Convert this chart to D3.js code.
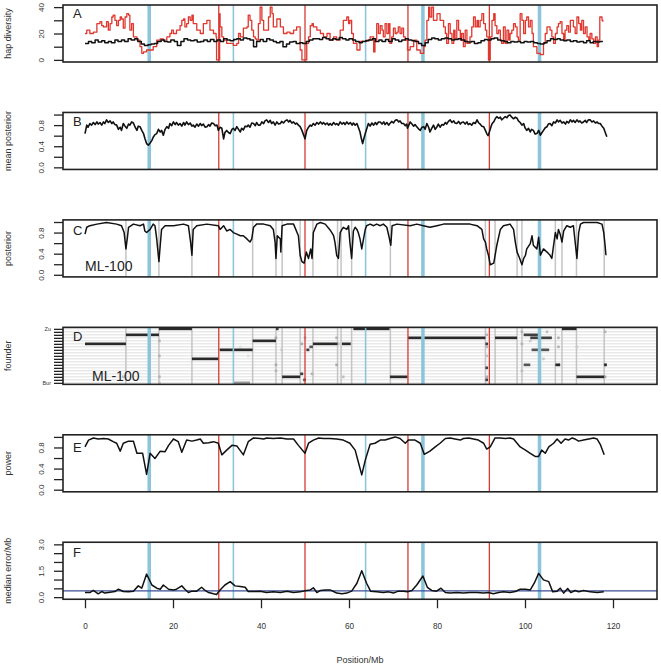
<!DOCTYPE html>
<html><head><meta charset="utf-8">
<script src="https://cdn.jsdelivr.net/npm/d3@7"></script>
<style>
body{margin:0;background:#fff}
svg{font-family:"Liberation Sans",Arial,Helvetica,sans-serif}
</style></head><body>
<svg id="chart" width="661" height="666"></svg>
<script>
// chromosome boundaries and centromeres (Mb, cumulative)
var chromEnds = [30.4, 50.0, 73.4, 91.9];
var centromeres = [[14.2, 15.0], [33.55, 33.9], [63.6, 63.95], [76.4, 77.2], [102.9, 103.7]];
var breakpoints = [9.3, 16.8, 24.3, 38.1, 43.4, 44.8, 48.9, 51.8, 57.4, 58.2, 60.6, 69.4, 91.0, 93.2, 98.2, 99.3, 106.9, 108.4, 111.7, 118.0];
var founders = ["Bur","Can","Col","Ct","Edi","Hi","Kn","Ler","Mt","No","Oy","Po","Rsch","Sf","Tsu","Wil","Ws","Wu","Zu"];
var xTicks = [0, 20, 40, 60, 80, 100, 120];

// A: haplotype diversity (red = observed, black = expected)
var hapRed = [[0,20],[0.4,22.5],[1.1,20],[1.9,21],[2.7,27.5],[3.4,29],[3.8,26],[4.2,25],[4.9,29],[5.3,22.5],[5.7,27.5],[6.1,32.5],[6.4,34],[6.8,30],[7.2,26],[7.6,30],[8.0,32.5],[8.3,31],[8.7,24],[9.1,32.5],[9.5,35],[9.9,34],[10.2,22.5],[10.6,27.5],[11.0,17.5],[11.8,15],[12.5,10],[12.9,5],[13.3,6],[14.0,7.5],[15.5,10],[16.3,15],[17.1,16],[17.8,15],[18.6,17.5],[19.3,20],[19.7,22.5],[20.1,20],[20.8,22.5],[21.6,26],[22.0,30],[22.4,31],[22.7,25],[23.1,27.5],[23.5,32.5],[23.9,30],[24.3,34],[24.6,27.5],[25.4,22.5],[26.2,20],[26.9,27.5],[27.7,30],[28.4,22.5],[29.2,20],[29.8,17.5],[29.9,0],[30.3,0],[30.6,35],[30.7,25],[31.1,17.5],[31.5,15],[32.2,12.5],[33.7,11],[34.5,12.5],[34.9,20],[35.3,17.5],[36.0,24],[36.8,25],[37.1,34],[37.5,30],[37.9,22.5],[38.3,17.5],[38.7,16],[39.0,15],[39.4,27.5],[39.8,40],[40.2,30],[40.6,22.5],[41.3,22.5],[41.7,32.5],[42.1,40],[42.5,35],[42.8,25],[43.6,31],[44.4,25],[45.1,20],[45.9,21],[46.6,20],[47.4,22.5],[48.1,25],[48.9,7.5],[49.3,0],[50.0,0],[50.4,12.5],[50.8,17.5],[51.2,26],[51.6,27.5],[51.9,25],[52.7,22.5],[53.5,20],[54.2,17.5],[55.0,20],[55.7,15],[56.5,17.5],[57.2,15],[58.0,22.5],[58.7,30],[59.5,32.5],[59.9,27.5],[60.2,30],[60.6,20],[61.0,12.5],[61.8,7.5],[62.5,14],[63.3,14],[64.0,15],[64.8,17.5],[65.6,6],[65.9,15],[66.3,27.5],[66.7,20],[67.1,26],[67.5,22.5],[67.8,17.5],[68.2,27.5],[68.6,20],[69.0,27.5],[69.3,12.5],[69.7,17.5],[70.1,24],[70.5,20],[70.9,21],[71.2,25],[71.6,20],[72.0,24],[72.4,17.5],[72.8,15],[73.3,7.5],[73.9,10],[74.7,15],[75.4,7.5],[76.2,5],[77.0,10],[77.3,15],[77.7,30],[78.1,40],[78.4,32.5],[78.8,40],[79.2,30],[80.0,35],[80.7,30],[81.5,25],[81.9,20],[82.2,12.5],[82.6,27.5],[83.0,20],[83.4,12.5],[83.8,22.5],[84.1,16],[84.5,30],[84.9,22.5],[85.3,15],[85.6,20],[86.0,10],[86.4,22.5],[86.8,12.5],[87.5,17.5],[87.9,25],[88.3,32.5],[88.7,25],[89.1,30],[89.4,25],[89.8,30],[90.2,35],[90.6,27.5],[91.0,22.5],[91.3,17.5],[91.7,0],[92.1,17.5],[92.5,30],[92.9,35],[93.2,26],[93.6,20],[94.0,22.5],[94.4,15],[94.7,12.5],[95.1,25],[95.5,12.5],[95.9,22.5],[96.3,15],[96.6,20],[97.0,22.5],[97.4,27.5],[97.8,25],[98.2,17.5],[98.5,15],[98.9,35],[99.3,30],[99.7,20],[100.1,30],[100.4,32.5],[100.8,25],[101.2,30],[101.6,20],[101.9,10],[102.7,5],[103.5,4],[104.2,12.5],[104.6,20],[105.0,25],[105.7,22.5],[106.1,17.5],[106.5,12.5],[106.9,20],[107.3,25],[107.6,27.5],[108.0,29],[108.4,20],[108.8,15],[109.1,22.5],[109.5,26],[109.9,21],[110.3,30],[111.0,25],[111.4,20],[111.8,32.5],[112.2,27.5],[112.6,22.5],[112.9,30],[113.3,20],[113.7,25],[114.1,17.5],[114.5,15],[114.8,20],[115.2,16],[115.6,12.5],[116.0,17.5],[116.4,10],[116.7,15],[117.0,32.5],[117.5,30],[117.7,29]];
var hapBlack = [[0,12.5],[0.8,14],[1.5,13],[2.3,15],[3.0,13.5],[3.8,14.5],[4.5,13],[5.3,14],[6.0,13],[6.8,15],[7.5,14],[8.3,15],[9.0,14],[9.8,16],[10.5,15],[11.3,16],[12.0,14],[12.8,12],[13.5,11],[14.3,11.5],[15.0,12],[15.8,12.5],[16.5,14],[17.3,15],[18.0,14],[18.8,13.5],[19.5,15],[20.3,14],[21.0,11],[21.8,14],[22.5,16],[23.3,15],[24.0,14.5],[24.8,15],[25.5,13.5],[26.3,14],[27.0,15],[27.8,14],[28.5,15.5],[29.3,14],[30.0,15],[30.8,14],[31.5,16],[32.3,15],[33.0,14.5],[33.8,15.5],[34.5,16],[35.3,15],[36.0,16.5],[36.8,16],[37.5,15],[38.3,10],[39.0,14],[39.8,15.5],[40.5,14],[41.3,16],[42.0,15],[42.8,14],[43.5,13],[44.3,14],[45.0,10],[45.8,12],[46.5,13.5],[47.3,14],[48.0,12.5],[48.8,13],[49.5,12.5],[50.3,14],[51.0,15],[51.8,16],[52.5,16],[53.3,15.5],[54.0,17],[54.8,16],[55.5,15],[56.3,16],[57.0,15.5],[57.8,17],[58.5,16],[59.3,15],[60.0,16],[60.8,15],[61.5,14],[62.3,13],[63.0,14],[63.8,14.5],[64.5,15],[65.3,16],[66.0,14],[66.8,15],[67.5,14],[68.3,15.5],[69.0,14],[69.8,16],[70.5,15],[71.3,14],[72.0,15],[72.8,16],[73.5,15],[74.3,14.5],[75.0,14],[75.8,12.5],[76.5,11],[77.3,13],[78.0,15.5],[78.8,16.5],[79.5,16],[80.3,15],[81.0,16],[81.8,16.5],[82.5,16],[83.3,15],[84.0,15.5],[84.8,16],[85.5,15],[86.3,14],[87.0,13.5],[87.8,14],[88.5,12.5],[89.3,13],[90.0,14.5],[90.8,15.5],[91.5,15],[92.3,16],[93.0,16.5],[93.8,15],[94.5,14.5],[95.3,14],[96.0,13],[96.8,14],[97.5,13.5],[98.3,14],[99.0,13],[99.8,14],[100.5,13.5],[101.3,14],[102.0,13],[102.8,12.5],[103.5,12],[104.3,13],[105.0,14.5],[105.8,16],[106.5,15.5],[107.3,16],[108.0,15],[108.8,14.5],[109.5,15],[110.3,14],[111.0,14.5],[111.8,13.5],[112.5,14],[113.3,13],[114.0,14.5],[114.8,13],[115.5,14],[116.3,13.5],[117.0,14],[117.7,14]];

// B: mean posterior
var meanPost = [[0,0.64],[0.4,0.80],[0.7,0.76],[1.1,0.83],[1.5,0.80],[1.9,0.85],[2.3,0.81],[2.7,0.86],[3.0,0.82],[3.4,0.85],[3.8,0.80],[4.2,0.86],[4.5,0.83],[4.9,0.90],[5.3,0.85],[5.7,0.88],[6.1,0.83],[6.4,0.86],[6.8,0.81],[7.2,0.80],[7.6,0.72],[8.0,0.76],[8.3,0.70],[8.7,0.83],[9.1,0.78],[9.5,0.74],[9.9,0.82],[10.2,0.80],[10.6,0.86],[11.0,0.84],[11.4,0.76],[11.8,0.70],[12.1,0.78],[12.5,0.77],[12.9,0.70],[13.3,0.64],[13.6,0.55],[14.0,0.45],[14.4,0.42],[14.8,0.46],[15.2,0.51],[15.5,0.57],[15.9,0.62],[16.3,0.64],[16.7,0.72],[17.1,0.67],[17.4,0.70],[17.8,0.61],[18.2,0.72],[18.6,0.77],[19.0,0.74],[19.3,0.83],[19.7,0.79],[20.1,0.86],[20.5,0.81],[20.8,0.85],[21.2,0.80],[21.6,0.83],[22.0,0.78],[22.4,0.85],[22.7,0.80],[23.1,0.86],[23.5,0.81],[23.9,0.84],[24.3,0.78],[24.6,0.80],[25.0,0.76],[25.4,0.82],[25.8,0.78],[26.2,0.83],[26.5,0.79],[26.9,0.82],[27.3,0.76],[27.7,0.77],[28.1,0.81],[28.4,0.78],[28.8,0.84],[29.2,0.83],[29.6,0.79],[30.0,0.80],[30.3,0.70],[30.7,0.76],[31.1,0.74],[31.5,0.54],[31.8,0.66],[32.2,0.70],[32.6,0.66],[33.0,0.64],[33.4,0.72],[33.7,0.74],[34.1,0.70],[34.5,0.77],[34.9,0.72],[35.3,0.67],[35.6,0.74],[36.0,0.71],[36.4,0.78],[36.8,0.77],[37.1,0.80],[37.5,0.76],[37.9,0.84],[38.3,0.83],[38.7,0.79],[39.0,0.85],[39.4,0.80],[39.8,0.80],[40.2,0.86],[40.6,0.83],[40.9,0.88],[41.3,0.90],[41.7,0.85],[42.1,0.89],[42.4,0.83],[42.8,0.86],[43.2,0.80],[43.6,0.86],[44.0,0.82],[44.4,0.83],[44.7,0.87],[45.1,0.84],[45.5,0.88],[45.9,0.90],[46.3,0.86],[46.6,0.89],[47.0,0.84],[47.4,0.86],[47.8,0.82],[48.1,0.84],[48.5,0.80],[48.9,0.77],[49.3,0.70],[49.7,0.61],[50.0,0.54],[50.4,0.70],[50.8,0.76],[51.2,0.80],[51.5,0.78],[51.9,0.83],[52.3,0.80],[52.7,0.85],[53.1,0.82],[53.5,0.86],[53.9,0.82],[54.2,0.85],[54.6,0.81],[55.0,0.84],[55.4,0.80],[55.7,0.83],[56.1,0.80],[56.5,0.85],[56.9,0.81],[57.2,0.83],[57.6,0.80],[58.0,0.86],[58.4,0.82],[58.8,0.85],[59.1,0.81],[59.5,0.86],[59.9,0.82],[60.3,0.85],[60.7,0.80],[61.0,0.84],[61.4,0.80],[61.8,0.83],[62.2,0.74],[62.5,0.67],[62.8,0.55],[63.1,0.45],[63.4,0.55],[63.7,0.64],[64.1,0.75],[64.4,0.83],[64.8,0.78],[65.2,0.84],[65.6,0.80],[66.0,0.85],[66.3,0.81],[66.7,0.86],[67.1,0.86],[67.5,0.82],[67.9,0.86],[68.2,0.81],[68.6,0.85],[69.0,0.80],[69.3,0.83],[69.7,0.87],[70.1,0.84],[70.5,0.89],[70.9,0.90],[71.3,0.86],[71.6,0.88],[72.0,0.83],[72.4,0.83],[72.8,0.79],[73.1,0.82],[73.3,0.74],[73.6,0.80],[73.9,0.86],[74.3,0.82],[74.7,0.78],[75.0,0.81],[75.4,0.77],[75.8,0.73],[76.2,0.70],[76.6,0.76],[77.0,0.77],[77.3,0.72],[77.7,0.83],[78.1,0.76],[78.4,0.67],[78.8,0.74],[79.2,0.80],[79.6,0.72],[80.0,0.77],[80.3,0.82],[80.7,0.76],[81.1,0.81],[81.5,0.80],[81.9,0.85],[82.2,0.82],[82.6,0.87],[83.0,0.90],[83.4,0.85],[83.8,0.88],[84.1,0.84],[84.5,0.83],[84.9,0.87],[85.3,0.82],[85.6,0.85],[86.0,0.86],[86.4,0.82],[86.8,0.86],[87.1,0.81],[87.5,0.83],[87.9,0.80],[88.3,0.85],[88.7,0.83],[89.1,0.90],[89.4,0.85],[89.8,0.82],[90.2,0.78],[90.6,0.77],[91.0,0.70],[91.3,0.64],[91.6,0.60],[91.9,0.67],[92.3,0.78],[92.6,0.84],[92.9,0.86],[93.3,0.93],[93.6,0.96],[94.0,0.93],[94.4,0.95],[94.7,0.90],[95.1,0.93],[95.5,0.96],[95.9,0.94],[96.2,0.98],[96.6,0.99],[97.0,0.95],[97.4,0.92],[97.8,0.95],[98.2,0.93],[98.5,0.88],[98.9,0.85],[99.3,0.80],[99.7,0.83],[100.0,0.75],[100.4,0.70],[100.8,0.74],[101.2,0.67],[101.5,0.72],[101.9,0.70],[102.3,0.63],[102.7,0.64],[103.1,0.70],[103.5,0.61],[103.8,0.65],[104.2,0.70],[104.6,0.75],[105.0,0.77],[105.3,0.82],[105.7,0.83],[106.1,0.79],[106.5,0.86],[106.9,0.84],[107.3,0.90],[107.6,0.86],[108.0,0.89],[108.4,0.84],[108.8,0.86],[109.2,0.82],[109.5,0.87],[109.9,0.84],[110.3,0.90],[110.7,0.86],[111.0,0.89],[111.4,0.85],[111.8,0.90],[112.2,0.86],[112.5,0.88],[112.9,0.84],[113.3,0.86],[113.7,0.89],[114.0,0.85],[114.4,0.90],[114.8,0.90],[115.2,0.86],[115.6,0.88],[116.0,0.84],[116.4,0.86],[116.7,0.83],[117.1,0.83],[117.5,0.78],[117.9,0.74],[118.2,0.67],[118.6,0.58]];

// C: posterior of ML founder for line ML-100
var linePost = [[0,0.77],[0.4,0.90],[1.1,0.93],[2.7,0.96],[4.9,0.99],[7.2,0.96],[8.3,0.93],[8.9,0.80],[9.3,0.49],[9.6,0.68],[9.9,0.90],[11.0,0.96],[12.5,0.93],[13.3,0.96],[13.6,0.83],[14.0,0.80],[14.8,0.86],[15.5,0.96],[15.9,0.93],[16.3,0.68],[16.8,0.25],[17.1,0.56],[17.4,0.86],[18.2,0.93],[20.1,0.93],[22.4,0.96],[23.5,0.93],[24.0,0.62],[24.3,0.37],[24.6,0.86],[25.4,0.93],[27.7,0.96],[30.3,0.93],[30.7,0.86],[31.5,0.93],[32.2,0.83],[33.0,0.86],[33.7,0.80],[34.5,0.77],[35.3,0.74],[36.0,0.74],[36.8,0.68],[37.5,0.62],[37.9,0.68],[38.3,0.90],[39.0,0.96],[40.6,0.96],[42.1,0.93],[42.8,0.86],[43.2,0.62],[43.4,0.31],[43.7,0.74],[44.4,0.68],[44.5,0.43],[44.8,0.93],[45.9,0.96],[47.4,0.96],[48.5,0.74],[48.9,0.37],[49.3,0.25],[49.8,0.22],[50.3,0.43],[50.8,0.31],[51.3,0.49],[51.6,0.31],[51.9,0.80],[52.7,0.96],[53.5,0.99],[54.6,0.96],[55.7,0.85],[56.5,0.74],[56.8,0.62],[57.2,0.37],[57.6,0.31],[58.0,0.80],[58.4,0.86],[58.7,0.90],[59.5,0.86],[59.9,0.93],[60.2,0.62],[60.6,0.31],[61.0,0.83],[61.4,0.90],[61.8,0.86],[62.1,0.80],[62.5,0.68],[62.9,0.49],[63.3,0.68],[63.7,0.86],[64.0,0.93],[64.8,0.96],[65.6,0.93],[66.3,0.96],[67.1,0.93],[67.8,0.96],[68.6,0.90],[69.2,0.68],[69.5,0.56],[69.8,0.93],[70.9,0.96],[73.9,0.93],[75.4,0.96],[76.9,0.93],[78.4,0.90],[80.0,0.93],[81.5,0.96],[84.5,0.96],[87.5,0.96],[89.1,0.93],[90.2,0.86],[90.6,0.68],[91.0,0.62],[91.3,0.49],[91.7,0.37],[92.1,0.19],[92.9,0.22],[93.6,0.56],[94.4,0.86],[95.1,0.93],[96.6,0.96],[97.4,0.86],[97.8,0.62],[98.2,0.43],[98.8,0.31],[99.3,0.19],[99.7,0.31],[100.1,0.37],[100.4,0.49],[101.2,0.59],[101.6,0.74],[101.9,0.56],[102.7,0.49],[103.1,0.71],[103.5,0.37],[104.2,0.49],[105.0,0.43],[105.7,0.37],[106.1,0.31],[106.5,0.56],[106.9,0.80],[107.3,0.68],[107.6,0.86],[108.0,0.77],[108.4,0.62],[108.8,0.83],[109.5,0.93],[110.3,0.90],[111.0,0.93],[111.8,0.31],[112.2,0.80],[112.6,0.96],[113.3,0.99],[116.4,0.99],[117.5,0.96],[117.9,0.80],[118.2,0.56],[118.4,0.37]];

// D: ML founder segments [start, end, founder index, posterior] and weaker cells
var founderSegs = [[0,9.3,13,1],[9.3,16.8,16,1],[16.8,24.3,18,1],[24.3,30.4,8,1],[30.6,38.1,11,1],[33.7,37.5,0,0.5],[38.1,43.4,14,1],[43.4,44.0,18,0.9],[44.8,48.9,2,1],[48.9,49.6,3,0.9],[49.6,50.2,1,0.9],[50.3,51.0,11,0.9],[51.0,51.8,12,0.8],[51.8,57.4,13,1],[58.4,60.4,13,1],[61.0,69.2,18,1],[69.3,73.3,2,1],[73.4,91.0,15,1],[91.0,91.6,13,0.9],[91.0,91.6,5,0.9],[91.0,91.6,1,0.9],[93.2,98.2,15,1],[99.7,103.1,16,0.9],[101.2,106.1,15,0.9],[101.5,105.5,11,0.8],[99.7,101.2,6,0.8],[106.9,108.0,6,1],[108.4,111.7,18,1],[111.7,118.0,2,1],[118.0,118.6,6,1]];
var founderCells = [[8.7,2,0.3],[16.9,14,0.35],[16.9,9,0.35],[16.9,2,0.35],[16.9,0,0.3],[35.3,12,0.15],[37.1,9,0.15],[43.4,15,0.4],[43.4,6,0.4],[43.4,4,0.35],[44.7,11,0.25],[49.3,13,0.4],[50.0,15,0.3],[51.6,3,0.35],[57.2,15,0.35],[57.2,6,0.4],[58.7,2,0.3],[57.6,13,0.3],[91.3,16,0.35],[91.3,12,0.35],[91.3,9,0.3],[91.3,2,0.4],[99.3,17,0.35],[99.3,13,0.35],[99.3,4,0.3],[101.2,14,0.25],[104.2,8,0.25],[105.0,17,0.3],[107.6,15,0.35],[107.6,12,0.35],[107.6,6,0.4],[111.8,12,0.25],[118.2,17,0.35],[118.2,6,0.5],[118.2,2,0.4]];

// E: power
var power = [[0,0.81],[0.8,0.94],[1.9,0.98],[3.0,0.96],[4.2,0.97],[5.3,0.96],[6.4,0.91],[7.2,0.88],[8.0,0.73],[8.7,0.88],[9.9,0.92],[11.0,0.92],[11.8,0.69],[13.1,0.69],[14.0,0.29],[14.8,0.69],[15.9,0.59],[17.1,0.73],[18.2,0.72],[19.0,0.84],[20.1,0.96],[21.2,0.91],[22.0,0.71],[23.1,0.94],[24.3,0.92],[25.4,0.94],[26.2,0.96],[26.9,0.88],[28.1,0.89],[29.2,0.91],[30.3,0.88],[31.1,0.66],[32.2,0.75],[33.4,0.84],[34.5,0.83],[36.0,0.66],[37.1,0.91],[38.3,0.98],[39.8,0.97],[40.6,0.96],[41.3,0.98],[42.8,0.97],[44.4,0.98],[45.9,0.96],[47.4,0.96],[48.5,0.84],[50.0,0.69],[50.8,0.88],[51.9,0.94],[53.1,0.98],[54.2,0.97],[55.7,0.97],[57.2,0.96],[58.7,0.94],[60.2,0.88],[61.4,0.75],[62.1,0.53],[62.9,0.28],[63.7,0.56],[64.8,0.86],[65.9,0.88],[67.1,0.94],[68.2,0.94],[69.3,0.97],[70.5,1.00],[71.6,0.97],[72.8,0.88],[73.5,0.94],[75.0,0.94],[76.2,0.88],[77.1,0.67],[78.4,0.73],[79.6,0.81],[80.7,0.88],[81.9,0.97],[83.0,0.98],[84.1,0.96],[85.3,0.94],[86.0,0.97],[87.2,0.98],[88.3,0.96],[89.4,0.94],[90.6,0.88],[91.3,0.77],[92.1,0.81],[93.2,0.98],[94.4,0.98],[95.5,0.97],[96.6,0.98],[97.4,0.96],[98.2,0.88],[98.9,0.81],[100.1,0.75],[101.2,0.69],[102.3,0.63],[103.1,0.63],[103.8,0.75],[104.6,0.69],[105.4,0.81],[106.5,0.88],[107.3,0.96],[108.2,0.88],[109.1,0.96],[109.9,0.94],[110.7,0.98],[111.4,0.96],[112.2,0.92],[113.3,0.94],[114.5,0.96],[115.6,0.98],[116.4,0.96],[117.1,0.86],[118.0,0.66]];

// F: median error (Mb) and its overall level
var medError = [[0,0.26],[1.1,0.26],[1.9,0.38],[3.0,0.19],[3.8,0.32],[4.5,0.23],[5.3,0.26],[6.8,0.32],[7.6,0.45],[8.7,0.32],[9.9,0.30],[11.0,0.34],[12.1,0.64],[12.9,0.51],[14.0,1.31],[15.2,0.69],[16.3,0.51],[17.1,0.45],[17.8,0.69],[19.0,0.45],[20.1,0.41],[20.8,0.45],[22.0,0.64],[22.7,0.45],[23.5,0.26],[24.3,0.34],[25.4,0.34],[26.5,0.56],[27.3,0.38],[28.1,0.26],[29.2,0.19],[29.9,0.15],[30.7,0.41],[31.8,0.69],[33.0,0.88],[34.1,0.64],[35.3,0.60],[36.4,0.56],[37.1,0.32],[38.3,0.32],[39.8,0.34],[41.3,0.26],[42.8,0.30],[44.4,0.26],[45.9,0.34],[47.4,0.26],[48.9,0.30],[50.0,0.36],[51.2,0.41],[51.9,0.53],[52.7,0.26],[53.5,0.38],[54.6,0.41],[55.7,0.41],[56.5,0.32],[57.2,0.23],[58.4,0.19],[59.5,0.23],[60.6,0.34],[61.8,0.79],[62.9,1.50],[64.0,0.79],[64.9,0.34],[66.3,0.30],[67.8,0.26],[69.0,0.30],[70.1,0.23],[71.2,0.34],[72.4,0.34],[73.3,0.30],[74.3,0.38],[75.4,0.69],[76.8,1.20],[77.8,0.56],[78.8,0.38],[79.9,0.34],[80.9,0.51],[81.9,0.26],[83.0,0.23],[84.5,0.26],[86.0,0.23],[87.5,0.26],[89.1,0.26],[90.6,0.23],[91.7,0.26],[92.8,0.19],[94.0,0.26],[95.1,0.30],[96.6,0.26],[97.8,0.32],[98.9,0.45],[100.1,0.45],[101.2,0.41],[102.1,0.79],[103.1,1.35],[104.2,0.98],[105.4,0.88],[106.3,0.30],[107.3,0.34],[108.0,0.51],[108.8,0.23],[109.7,0.49],[110.4,0.26],[111.4,0.38],[112.2,0.30],[113.3,0.38],[114.8,0.30],[116.4,0.26],[117.9,0.30]];
var errorLevel = 0.36;

var svg = d3.select("#chart");
var x = d3.scaleLinear().domain([-5, 130]).range([63, 657]);
var panelH = 57, panelGap = 107.45, firstTop = 5;
var RED = "#d63a33", BLUE = "#8cc5db", GREY = "#c4c4c4";

var panels = [
    {key: "A", title: "hap diversity", dom: [-1.6, 41.6], ticks: [0, 10, 20, 30, 40], labels: [0, 20, 40], fmt: d3.format("d"), ly: 12.5},
    {key: "B", title: "mean posterior", dom: [-0.04, 1.04], ticks: [0, 0.2, 0.4, 0.6, 0.8, 1], labels: [0, 0.4, 0.8], fmt: d3.format(".1f"), ly: 14},
    {key: "C", title: "posterior", dom: [-0.04, 1.04], ticks: [0, 0.2, 0.4, 0.6, 0.8, 1], labels: [0, 0.4, 0.8], fmt: d3.format(".1f"), ly: 15.5},
    {key: "D", title: "founder", dom: [-0.5, 18.5], ly: 13.5},
    {key: "E", title: "power", dom: [-0.04, 1.04], ticks: [0, 0.2, 0.4, 0.6, 0.8, 1], labels: [0, 0.4, 0.8], fmt: d3.format(".1f"), ly: 17},
    {key: "F", title: "median error/Mb", dom: [-0.12, 3.12], ticks: [0, 0.5, 1, 1.5, 2, 2.5, 3], labels: [0, 1.5, 3], fmt: d3.format(".1f"), ly: 15}
];

function guides(g, y) {
    g.selectAll(".cen").data(centromeres).enter().append("rect")
        .attr("x", d => x(d[0]))
        .attr("width", d => x(d[1]) - x(d[0]))
        .attr("y", y.range()[1])
        .attr("height", y.range()[0] - y.range()[1])
        .attr("fill", BLUE)
    g.selectAll(".chr").data(chromEnds).enter().append("line")
        .attr("x1", d => x(d)).attr("x2", d => x(d))
        .attr("y1", y.range()[0]).attr("y2", y.range()[1])
        .attr("stroke", RED).attr("stroke-width", 1.3)
}

function greyLines(g, y) {
    g.selectAll(".bp").data(breakpoints).enter().append("line")
        .attr("x1", d => x(d)).attr("x2", d => x(d))
        .attr("y1", y.range()[0]).attr("y2", y.range()[1])
        .attr("stroke", GREY).attr("stroke-width", 1.5)
}

function trace(g, data, y, color, width, curve) {
    g.append("path")
        .datum(data)
        .attr("fill", "none")
        .attr("stroke", color)
        .attr("stroke-width", width)
        .attr("stroke-linejoin", "round")
        .attr("d", d3.line().x(d => x(d[0])).y(d => y(d[1])).curve(curve || d3.curveLinear))
}

panels.forEach(function (p, i) {
    var top = firstTop + i * panelGap;
    var y = d3.scaleLinear().domain(p.dom).range([top + panelH, top]);

    svg.append("clipPath").attr("id", "clip" + p.key)
        .append("rect").attr("x", 63).attr("y", top).attr("width", 594).attr("height", panelH);
    var plot = svg.append("g").attr("clip-path", "url(#clip" + p.key + ")");

    if (p.key == "A") {
        guides(plot, y);
        trace(plot, hapRed, y, "#e0372f", 1.3, d3.curveStepAfter);
        trace(plot, hapBlack, y, "#111", 1.5, d3.curveStepAfter);
    } else if (p.key == "B") {
        guides(plot, y);
        trace(plot, meanPost, y, "#111", 1.6);
    } else if (p.key == "C") {
        greyLines(plot, y);
        guides(plot, y);
        trace(plot, linePost, y, "#111", 1.5);
    } else if (p.key == "D") {
        plot.selectAll(".row").data(d3.range(founders.length)).enter().append("line")
            .attr("x1", 63).attr("x2", 657)
            .attr("y1", d => y(d)).attr("y2", d => y(d))
            .attr("stroke", "#dadada").attr("stroke-width", 0.9)
        greyLines(plot, y);
        var shade = d3.scaleLinear().domain([0, 1]).range(["#ffffff", "#2a2a2a"]);
        plot.selectAll(".cell").data(founderCells).enter().append("rect")
            .attr("x", d => x(d[0] - 0.3)).attr("width", x(0.6) - x(0))
            .attr("y", d => y(d[1] + 0.45)).attr("height", y(0) - y(0.9))
            .attr("fill", d => shade(d[2]))
        plot.selectAll(".seg").data(founderSegs).enter().append("rect")
            .attr("x", d => x(d[0])).attr("width", d => x(d[1]) - x(d[0]))
            .attr("y", d => y(d[2] + 0.45)).attr("height", y(0) - y(0.9))
            .attr("fill", d => shade(d[3]))
        guides(plot, y);
    } else if (p.key == "E") {
        guides(plot, y);
        trace(plot, power, y, "#111", 1.5);
    } else if (p.key == "F") {
        guides(plot, y);
        plot.append("line")
            .attr("x1", 63).attr("x2", 657)
            .attr("y1", y(errorLevel)).attr("y2", y(errorLevel))
            .attr("stroke", "#3a4f96").attr("stroke-width", 1.3)
        trace(plot, medError, y, "#111", 1.5);
    }

    // frame
    svg.append("rect")
        .attr("x", 63).attr("y", top).attr("width", 594).attr("height", panelH)
        .attr("fill", "none").attr("stroke", "#222").attr("stroke-width", 1.6)

    // y axis
    var axisG = svg.append("g").attr("transform", "translate(63,0)");
    if (p.key == "D") {
        axisG.call(d3.axisLeft(y).tickValues(d3.range(founders.length)).tickSize(9)
            .tickFormat((d, j) => (j == 0 || j == founders.length - 1) ? founders[d] : ""));
        axisG.selectAll("text").attr("x", -12).attr("font-size", 5.5).attr("fill", "#333");
    } else {
        axisG.call(d3.axisLeft(y).tickValues(p.ticks).tickSize(9)
            .tickFormat(d => p.labels.indexOf(d) >= 0 ? p.fmt(d) : ""));
        axisG.selectAll("text")
            .attr("x", 0).attr("y", -19).attr("dy", 0)
            .attr("text-anchor", "middle")
            .attr("transform", "rotate(-90)")
            .attr("font-size", 8).attr("fill", "#333");
    }
    axisG.select(".domain").remove();
    axisG.selectAll("line").attr("stroke", "#222").attr("stroke-width", 1.3);
    axisG.attr("font-family", null);

    // axis title
    var my = top + panelH / 2;
    svg.append("text")
        .attr("x", 11).attr("y", my)
        .attr("transform", "rotate(-90,11," + my + ")")
        .attr("text-anchor", "middle")
        .attr("font-size", 9).attr("fill", "#333")
        .text(p.title)

    // panel letter
    svg.append("text")
        .attr("x", 73).attr("y", top + p.ly)
        .attr("font-size", 13).attr("fill", "#222")
        .text(p.key)

    if (p.key == "C" || p.key == "D") {
        svg.append("text")
            .attr("x", p.key == "C" ? 85 : 92)
            .attr("y", p.key == "C" ? 270.5 : 380.5)
            .attr("font-size", 14).attr("fill", "#222")
            .text("ML-100")
    }

    if (p.key == "F") {
        var xa = svg.append("g").attr("transform", "translate(0," + (top + panelH) + ")")
            .call(d3.axisBottom(x).tickValues(xTicks).tickSize(9));
        xa.select(".domain").remove();
        xa.selectAll("line").attr("stroke", "#222").attr("stroke-width", 1.3);
        xa.selectAll("text").attr("y", 30).attr("dy", 0).attr("font-size", 8.2).attr("fill", "#333");
        xa.attr("font-family", null);
        svg.append("text")
            .attr("x", 360).attr("y", 663)
            .attr("text-anchor", "middle")
            .attr("font-size", 9).attr("fill", "#333")
            .text("Position/Mb")
    }
});
</script>
</body></html>
